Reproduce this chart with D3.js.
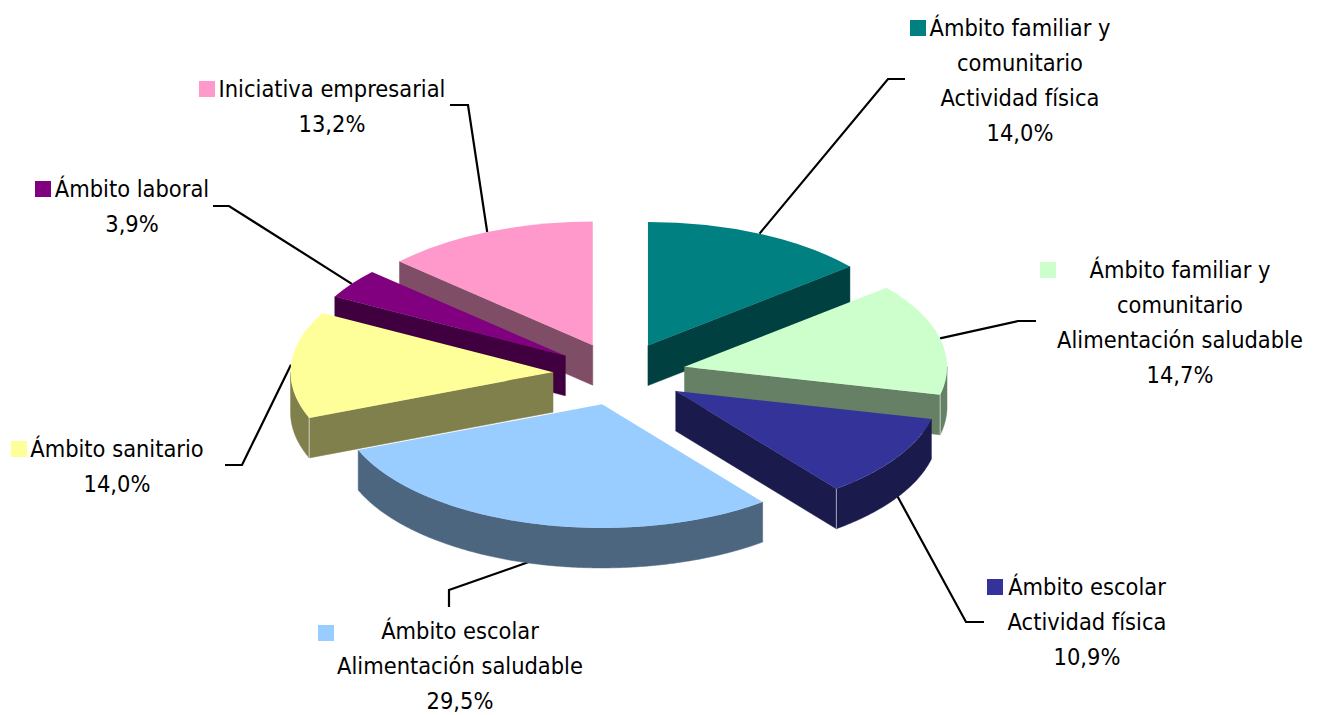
<!DOCTYPE html>
<html lang="es">
<head>
<meta charset="utf-8">
<script src="https://cdn.jsdelivr.net/npm/d3@7"></script>
<style>
html,body{margin:0;padding:0;background:#fff;overflow:hidden}
text{font-family:"DejaVu Sans Condensed","DejaVu Sans",sans-serif;font-stretch:condensed;font-size:23.4px;fill:#000;text-anchor:middle;dominant-baseline:middle}
</style>
</head>
<body>
<svg id="chart" width="1319" height="715"></svg>
<script>
// Data
const categories = [
  ["Ámbito familiar y","comunitario","Actividad física"],
  ["Ámbito familiar y","comunitario","Alimentación saludable"],
  ["Ámbito escolar","Actividad física"],
  ["Ámbito escolar","Alimentación saludable"],
  ["Ámbito sanitario"],
  ["Ámbito laboral"],
  ["Iniciativa empresarial"]
];
const values = [14.0, 14.7, 10.9, 29.5, 14.0, 3.9, 13.2];
const valueLabels = ["14,0%","14,7%","10,9%","29,5%","14,0%","3,9%","13,2%"];
const topColors = ["#008080","#CCFFCC","#333399","#99CCFF","#FFFF99","#800080","#FF99CC"];
const sideColors = ["#004040","#668066","#1A1A4D","#4D6680","#80804D","#400040","#804D66"];

// Layout of the pseudo-3D pie
const cx = 619.6, cy = 374, rx = 262.5, tilt = 0.471, depth = 40, explode = 66.7;
const labelCenters = [[1020,29.5],[1180,271.5],[1087,588.5],[460,632.5],[117,450.5],[132,190.5],[332,90.5]];
const keyCorners = [[910,20],[1040,262],[987,579],[318,625],[11,441],[35,181],[199,81]];
const leaderElbows = [
  [[888,79],[905,79]],
  [[1018,321],[1036,321]],
  [[966,622],[984,622]],
  [[449,590],[449,607]],
  [[242,465],[225,465]],
  [[229,206],[213,206]],
  [[468,105],[450,105]]
];
const lineHeight = 35;

const svg = d3.select("#chart");
const slices = d3.pie().sort(null)(values).map((d,i)=>{
  const mid = (d.startAngle+d.endAngle)/2;
  return {...d, i, mid,
    ax: cx + explode*Math.sin(mid),
    ay: cy - explode*tilt*Math.cos(mid)};
});
const rim = (s,a,dz=0)=>[s.ax+rx*Math.sin(a), s.ay-rx*tilt*Math.cos(a)+dz];
const topArc = d3.arc().innerRadius(0).outerRadius(rx);
const poly = d3.line();

// Leaders sit behind the pie
const inFront = s=>s.mid>Math.PI/2 && s.mid<1.5*Math.PI;
svg.append("g").selectAll("path").data(slices).join("path")
  .attr("d",s=>poly([rim(s,s.mid,inFront(s)?depth-3:0),...leaderElbows[s.i]]))
  .attr("fill","none").attr("stroke","#000").attr("stroke-width",2.2);

// Paint back to front
const order = slices.slice().sort((a,b)=>a.ay-b.ay);
const g = svg.selectAll("g.slice").data(order).join("g").attr("class","slice");
g.each(function(s){
  const el = d3.select(this), side = sideColors[s.i];
  const radial = a=>{
    const p=[s.ax,s.ay], q=rim(s,a);
    el.append("path").attr("d",poly([p,q,[q[0],q[1]+depth],[p[0],p[1]+depth]])+"Z")
      .attr("fill",side).attr("stroke",side).attr("stroke-width",0.5);
  };
  if(Math.sin(s.startAngle)<-1e-6) radial(s.startAngle);
  if(Math.sin(s.endAngle)>1e-6) radial(s.endAngle);
  const a0=Math.max(s.startAngle,Math.PI/2), a1=Math.min(s.endAngle,1.5*Math.PI);
  if(a1>a0){
    const as=d3.range(a0,a1,0.01).concat([a1]);
    el.append("path")
      .attr("d",poly(as.map(a=>rim(s,a)).concat(as.slice().reverse().map(a=>rim(s,a,depth))))+"Z")
      .attr("fill",side).attr("stroke",side).attr("stroke-width",0.5);
    // pale seam where a radial face meets the wall
    [s.startAngle,s.endAngle].filter(a=>a>=Math.PI/2&&a<=1.5*Math.PI&&(a===s.endAngle?Math.sin(a)>0:Math.sin(a)<0)).forEach(a=>{
      const q=rim(s,a);
      el.append("line").attr("x1",q[0]).attr("y1",q[1]).attr("x2",q[0]).attr("y2",q[1]+depth)
        .attr("stroke","#fff").attr("stroke-opacity",0.6).attr("stroke-width",1);
    });
  }
  el.append("path").attr("d",topArc(s))
    .attr("transform",`translate(${s.ax},${s.ay}) scale(1,${tilt})`)
    .attr("fill",topColors[s.i]);
});

// Labels
const lab = svg.append("g").selectAll("g").data(slices).join("g");
lab.append("rect")
  .attr("x",s=>keyCorners[s.i][0]).attr("y",s=>keyCorners[s.i][1])
  .attr("width",16).attr("height",16).attr("fill",s=>topColors[s.i]);
lab.each(function(s){
  const lines=[...categories[s.i],valueLabels[s.i]];
  d3.select(this).selectAll("text").data(lines).join("text")
    .attr("x",labelCenters[s.i][0])
    .attr("y",(d,j)=>labelCenters[s.i][1]+j*lineHeight)
    .text(d=>d);
});
</script>
</body>
</html>
